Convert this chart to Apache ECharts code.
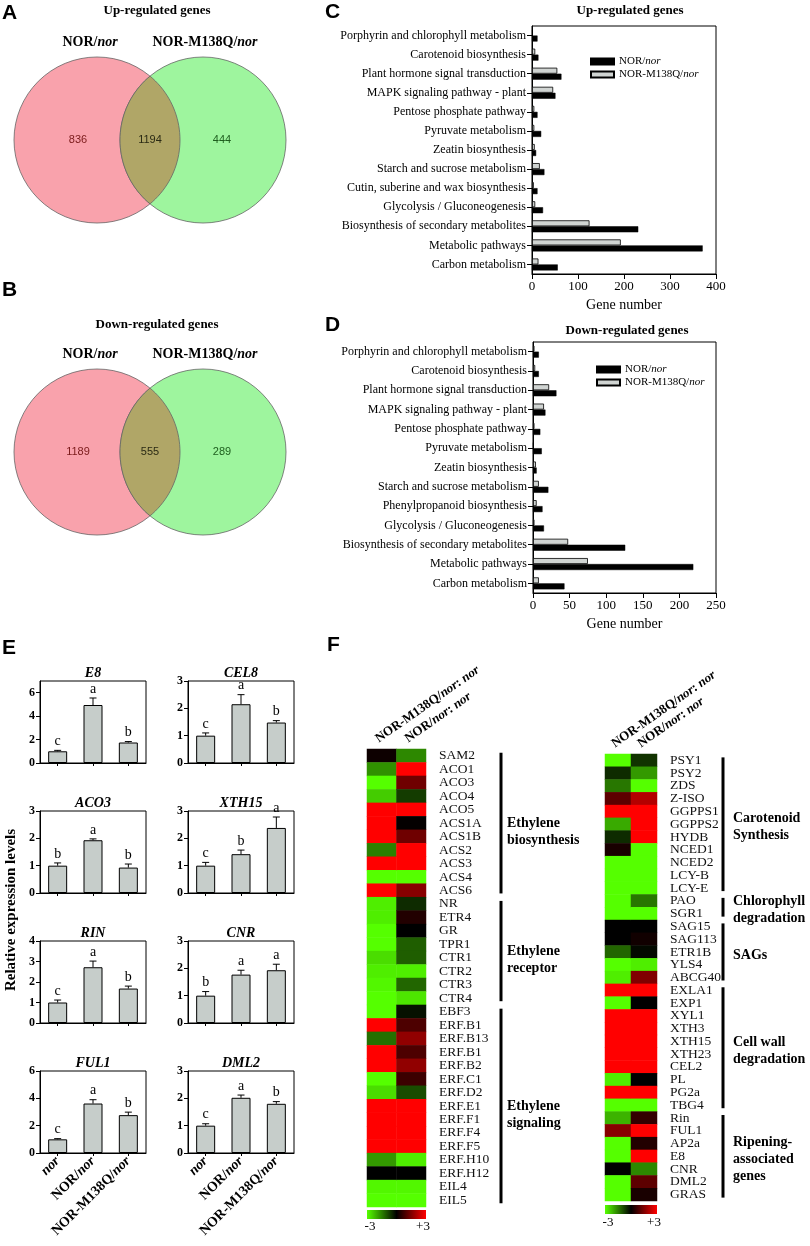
<!DOCTYPE html>
<html><head><meta charset="utf-8">
<script src="https://cdn.jsdelivr.net/npm/echarts@6/dist/echarts.min.js"></script>
<style>html,body{margin:0;padding:0;background:#fff}#c{width:810px;height:1246px}</style>
</head><body><div id="c"></div>
<script>
// ================= DATA =================
const vennSets = ['NOR/nor', 'NOR-M138Q/nor'];
const upCounts = [836, 1194, 444];
const downCounts = [1189, 555, 289];

const keggUpCats = ['Porphyrin and chlorophyll metabolism','Carotenoid biosynthesis','Plant hormone signal transduction','MAPK signaling pathway - plant','Pentose phosphate pathway','Pyruvate metabolism','Zeatin biosynthesis','Starch and sucrose metabolism','Cutin, suberine and wax biosynthesis','Glycolysis / Gluconeogenesis','Biosynthesis of secondary metabolites','Metabolic pathways','Carbon metabolism'];
const keggUpNOR   = [12, 14, 64, 51, 12, 20, 9, 27, 12, 24, 231, 371, 56];
const keggUpM138Q = [2, 7, 55, 46, 5, 5, 6, 17, 4, 7, 125, 193, 14];
const keggUpTicks = [0, 100, 200, 300, 400];

const keggDownCats = ['Porphyrin and chlorophyll metabolism','Carotenoid biosynthesis','Plant hormone signal transduction','MAPK signaling pathway - plant','Pentose phosphate pathway','Pyruvate metabolism','Zeatin biosynthesis','Starch and sucrose metabolism','Phenylpropanoid biosynthesis','Glycolysis / Gluconeogenesis','Biosynthesis of secondary metabolites','Metabolic pathways','Carbon metabolism'];
const keggDownNOR   = [8, 8, 32, 17, 10, 12, 5, 21, 13, 15, 126, 219, 43];
const keggDownM138Q = [2, 3, 22, 15, 2, 1, 4, 8, 5, 2, 48, 75, 8];
const keggDownTicks = [0, 50, 100, 150, 200, 250];

const qpcrGroups = ['nor', 'NOR/nor', 'NOR-M138Q/nor'];
const qpcrGenes = ['E8', 'CEL8', 'ACO3', 'XTH15', 'RIN', 'CNR', 'FUL1', 'DML2'];
const qpcrMean = [[1.0, 4.95, 1.75], [1.0, 2.15, 1.48], [1.0, 1.93, 0.93], [1.0, 1.42, 2.38],
                  [1.0, 2.72, 1.68], [1.0, 1.77, 1.93], [1.0, 3.62, 2.77], [1.0, 2.02, 1.80]];
const qpcrErr  = [[0.08, 0.6, 0.08], [0.1, 0.35, 0.07], [0.1, 0.05, 0.13], [0.12, 0.15, 0.4],
                  [0.12, 0.3, 0.12], [0.15, 0.16, 0.22], [0.05, 0.28, 0.22], [0.07, 0.1, 0.08]];
const qpcrLetters = [['c','a','b'], ['c','a','b'], ['b','a','b'], ['c','b','a'],
                     ['c','a','b'], ['b','a','a'], ['c','a','b'], ['c','a','b']];
const qpcrYTicks = [[0,2,4,6], [0,1,2,3], [0,1,2,3], [0,1,2,3], [0,1,2,3,4], [0,1,2,3], [0,2,4,6], [0,1,2,3]];
const qpcrYMax = [7, 3, 3, 3, 4, 3, 6, 3];

const heatCols = ['NOR-M138Q/nor: nor', 'NOR/nor: nor'];
const heatGenesLeft = ['SAM2','ACO1','ACO3','ACO4','ACO5','ACS1A','ACS1B','ACS2','ACS3','ACS4','ACS6','NR','ETR4','GR','TPR1','CTR1','CTR2','CTR3','CTR4','EBF3','ERF.B1','ERF.B13','ERF.B1','ERF.B2','ERF.C1','ERF.D2','ERF.E1','ERF.F1','ERF.F4','ERF.F5','ERF.H10','ERF.H12','EIL4','EIL5'];
const heatLeftM138Q = [0.15,-1.7,-3,-2.4,3,3,3,-1.5,3,-3,3, -2.8,-2.8,-3,-3,-2.6,-2.8,-2.9,-3, -3,3,-1.3,3,3,-3,-2.6,3,3,3,3,-1.8,0,-2.9,-3];
const heatLeftNOR   = [-1.6,3,1.3,-0.7,3,0.05,1.3,3,3,-3,1.6, -0.5,0.4,0,-1.1,-1.1,-2.8,-1.2,-2.7, -0.2,0.9,1.7,0.9,1.7,0.7,-0.9,3,3,3,3,-2.8,0,-2.9,-3];
const heatGenesRight = ['PSY1','PSY2','ZDS','Z-ISO','GGPPS1','GGPPS2','HYDB','NCED1','NCED2','LCY-B','LCY-E','PAO','SGR1','SAG15','SAG113','ETR1B','YLS4','ABCG40','EXLA1','EXP1','XYL1','XTH3','XTH15','XTH23','CEL2','PL','PG2a','TBG4','Rin','FUL1','AP2a','E8','CNR','DML2','GRAS'];
const heatRightM138Q = [-3,-0.5,-1.4,1.1,3,-2.0,-0.5,0.3,-3,-3,-3, -3,-3, 0,0,-1.2,-3,-2.8, 3,-3,3,3,3,3,3,-2.8,3,-3, -2.1,1.6,-3,-3,0,-3,-3];
const heatRightNOR   = [-0.6,-1.8,-3,2.1,3,3,3,-3,-3,-3,-3, -1.4,-3, 0,0.2,-0.1,-2.8,1.5, 3,0,3,3,3,3,3,0,3,-3, 0.6,3,0.4,3,-1.6,1.1,0.3];
const heatGroupsLeft  = [['Ethylene\nbiosynthesis', 0, 10], ['Ethylene\nreceptor', 11, 18], ['Ethylene\nsignaling', 19, 33]];
const heatGroupsRight = [['Carotenoid\nSynthesis', 0, 10], ['Chlorophyll\ndegradation', 11, 12], ['SAGs', 13, 17], ['Cell wall\ndegradation', 18, 27], ['Ripening-\nassociated\ngenes', 28, 34]];
const heatScale = [-3, 3];

// ================= STYLE / LAYOUT =================
const SERIF = "'Liberation Serif','Times New Roman',serif";
const SANS = "'Liberation Sans',Arial,sans-serif";
const HEAT_COLORS = ['#55ff00', '#000000', '#ff0000'];
const itl = s => s.replace(/nor/g, '{i|nor}');

const chart = echarts.init(document.getElementById('c'), null, {renderer: 'canvas'});

const grids = [
  {left: 532, top: 26, width: 184, height: 248, show: true, borderColor: '#000', borderWidth: 1},
  {left: 533, top: 342, width: 183, height: 251, show: true, borderColor: '#000', borderWidth: 1}
];
const eCols = [40, 188], eTops = [681, 811, 941, 1071];
qpcrGenes.forEach((g, i) => grids.push({left: eCols[i % 2], top: eTops[Math.floor(i / 2)], width: 106, height: 82, show: true, borderColor: '#000', borderWidth: 1}));
grids.push({left: 367, top: 749, width: 59, height: 458});
grids.push({left: 605, top: 754, width: 52, height: 447});

const xAxes = [], yAxes = [], series = [];

function keggAxes(gi, cats, ticks) {
  const mx = ticks[ticks.length - 1], step = ticks[1] - ticks[0];
  xAxes.push({gridIndex: gi, type: 'value', min: 0, max: mx, interval: step,
    axisLine: {show: true, lineStyle: {color: '#000', width: 1}},
    axisTick: {show: true, length: 5, lineStyle: {color: '#000'}},
    axisLabel: {fontFamily: SERIF, fontSize: 13, color: '#000', margin: 6},
    splitLine: {show: false},
    name: 'Gene number', nameLocation: 'middle', nameGap: 24,
    nameTextStyle: {fontFamily: SERIF, fontSize: 14, color: '#000'}});
  yAxes.push({gridIndex: gi, type: 'category', data: cats, inverse: true,
    axisLine: {show: true, lineStyle: {color: '#000', width: 1}},
    axisTick: {show: true, alignWithLabel: true, length: 5, interval: 0, lineStyle: {color: '#000'}},
    axisLabel: {fontFamily: SERIF, fontSize: 12, color: '#000', margin: 6, interval: 0}});
}
keggAxes(0, keggUpCats, keggUpTicks);
keggAxes(1, keggDownCats, keggDownTicks);

function keggSeries(ai, nor, m138) {
  series.push({type: 'bar', name: 'NOR-M138Q/nor', xAxisIndex: ai, yAxisIndex: ai, data: m138,
    barWidth: 6, barGap: '0%', silent: true,
    itemStyle: {color: '#d0d4d2', borderColor: '#000', borderWidth: 0.8}});
  series.push({type: 'bar', name: 'NOR/nor', xAxisIndex: ai, yAxisIndex: ai, data: nor,
    barWidth: 6, barGap: '0%', silent: true,
    itemStyle: {color: '#000', borderColor: '#000', borderWidth: 0.5}});
}
keggSeries(0, keggUpNOR, keggUpM138Q);
keggSeries(1, keggDownNOR, keggDownM138Q);

qpcrGenes.forEach((gene, g) => {
  const ai = 2 + g;
  const bottom = g >= 6;
  const ticks = qpcrYTicks[g];
  xAxes.push({gridIndex: ai, type: 'category', data: qpcrGroups,
    axisLine: {show: true, lineStyle: {color: '#000'}},
    axisTick: {show: true, alignWithLabel: true, length: 3, lineStyle: {color: '#000'}},
    axisLabel: {show: bottom, rotate: 45, margin: 6, interval: 0, fontFamily: SERIF, fontSize: 14, fontWeight: 'bold', color: '#000',
      formatter: v => itl(v),
      rich: {i: {fontFamily: SERIF, fontSize: 14, fontWeight: 'bold', fontStyle: 'italic', color: '#000'}}}});
  yAxes.push({gridIndex: ai, type: 'value', min: 0, max: qpcrYMax[g], interval: ticks[1] - ticks[0],
    axisLine: {show: true, lineStyle: {color: '#000'}},
    axisTick: {show: true, length: 4, lineStyle: {color: '#000'}, customValues: ticks},
    axisLabel: {fontFamily: SERIF, fontSize: 12, fontWeight: 'bold', color: '#000', margin: 5,
      customValues: ticks, formatter: v => (ticks.indexOf(v) >= 0 ? String(v) : '')},
    splitLine: {show: false}});
  series.push({type: 'bar', name: 'q-' + gene, xAxisIndex: ai, yAxisIndex: ai, data: qpcrMean[g],
    barWidth: 19, silent: true,
    itemStyle: {color: '#c6cdca', borderColor: '#000', borderWidth: 1}});
  series.push({type: 'custom', name: 'err-' + gene, xAxisIndex: ai, yAxisIndex: ai, silent: true, z: 5,
    data: qpcrMean[g].map((m, i) => [i, m, qpcrErr[g][i]]),
    encode: {x: 0, y: 1},
    renderItem: (params, api) => {
      const i = api.value(0), m = api.value(1), e = api.value(2);
      const p0 = api.coord([i, m]), p1 = api.coord([i, m + e]);
      return {type: 'group', children: [
        {type: 'line', shape: {x1: p0[0], y1: p0[1], x2: p1[0], y2: p1[1]}, style: {stroke: '#000', lineWidth: 1}},
        {type: 'line', shape: {x1: p1[0] - 3.5, y1: p1[1], x2: p1[0] + 3.5, y2: p1[1]}, style: {stroke: '#000', lineWidth: 1}},
        {type: 'text', x: p1[0], y: p1[1] - 2, style: {text: qpcrLetters[g][params.dataIndex], align: 'center', verticalAlign: 'bottom',
          textAlign: 'center', textVerticalAlign: 'bottom', fontFamily: SERIF, fontSize: 14, fill: '#000'}}
      ]};
    }});
});

function heatAxes(gi, genes) {
  xAxes.push({gridIndex: gi, type: 'category', data: heatCols, position: 'top',
    axisLine: {show: false}, axisTick: {show: false}, splitLine: {show: false}, axisLabel: {show: false}});
  yAxes.push({gridIndex: gi, type: 'category', data: genes, inverse: true, position: 'right',
    axisLine: {show: false}, axisTick: {show: false}, splitLine: {show: false},
    axisLabel: {margin: 13, interval: 0, fontFamily: SERIF, fontSize: 13.5, color: '#111'}});
}
heatAxes(10, heatGenesLeft);
heatAxes(11, heatGenesRight);
const hmStart = series.length;
function heatSeries(ai, a, b) {
  const d = [];
  a.forEach((v, r) => d.push([0, r, v]));
  b.forEach((v, r) => d.push([1, r, v]));
  series.push({type: 'heatmap', xAxisIndex: ai, yAxisIndex: ai, data: d, silent: true,
    itemStyle: {borderWidth: 0}, emphasis: {disabled: true}});
}
heatSeries(10, heatLeftM138Q, heatLeftNOR);
heatSeries(11, heatRightM138Q, heatRightNOR);

const legendCommon = {orient: 'vertical', itemWidth: 23, itemHeight: 6, itemGap: 2, icon: 'rect',
  selectedMode: false, data: ['NOR/nor', 'NOR-M138Q/nor'], formatter: n => itl(n),
  textStyle: {fontFamily: SERIF, fontSize: 11, color: '#000',
    rich: {i: {fontFamily: SERIF, fontSize: 11, fontStyle: 'italic', color: '#000'}}}};

chart.setOption({
  animation: false,
  backgroundColor: '#fff',
  grid: grids, xAxis: xAxes, yAxis: yAxes, series: series,
  legend: [Object.assign({left: 585, top: 51}, legendCommon), Object.assign({left: 591, top: 359}, legendCommon)],
  visualMap: [{type: 'continuous', show: false, min: heatScale[0], max: heatScale[1], seriesIndex: [hmStart, hmStart + 1],
    inRange: {color: HEAT_COLORS}}]
});

// ================= GRAPHICS (text, venn, brackets) =================
const G = [];
function txt(x, y, text, o) {
  o = o || {};
  const st = Object.assign({text: text, fontFamily: SERIF, fontSize: 13, fill: '#000',
    align: 'center', verticalAlign: 'middle'}, o.style || {});
  st.textAlign = st.align;
  st.textVerticalAlign = st.verticalAlign;
  G.push({type: 'text', x: x, y: y, rotation: o.rotation || 0, silent: true, z: 100, style: st});
}
const letterStyle = {fontFamily: SANS, fontSize: 21, fontWeight: 'bold', align: 'left'};
txt(2, 13, 'A', {style: letterStyle});
txt(2, 290, 'B', {style: letterStyle});
txt(325, 12, 'C', {style: letterStyle});
txt(325, 325, 'D', {style: letterStyle});
txt(2, 648, 'E', {style: letterStyle});
txt(327, 645, 'F', {style: letterStyle});

const boldT = {fontWeight: 'bold', fontSize: 13};
txt(157, 11, 'Up-regulated genes', {style: boldT});
txt(157, 325, 'Down-regulated genes', {style: boldT});
txt(630, 11, 'Up-regulated genes', {style: boldT});
txt(627, 331, 'Down-regulated genes', {style: boldT});

const richBold = {i: {fontFamily: SERIF, fontSize: 14, fontWeight: 'bold', fontStyle: 'italic', fill: '#000'}};
function venn(cy, labelY, counts) {
  const r = 83, c1 = 97, c2 = 203;
  const half = (c2 - c1) / 2, h = Math.sqrt(r * r - half * half);
  const th = Math.atan2(h, half);
  const pts = [];
  const N = 40;
  for (let k = 0; k <= N; k++) { const t = -th + 2 * th * k / N; pts.push([c1 + r * Math.cos(t), cy + r * Math.sin(t)]); }
  for (let k = 0; k <= N; k++) { const t = Math.PI - th + 2 * th * k / N; pts.push([c2 + r * Math.cos(t), cy + r * Math.sin(t)]); }
  G.push({type: 'circle', shape: {cx: c1, cy: cy, r: r}, style: {fill: '#f9a2ac', stroke: '#666', lineWidth: 0.8}, silent: true});
  G.push({type: 'circle', shape: {cx: c2, cy: cy, r: r}, style: {fill: '#9ef59e', stroke: '#666', lineWidth: 0.8}, silent: true});
  G.push({type: 'polygon', shape: {points: pts}, style: {fill: '#b0a667', stroke: '#666', lineWidth: 0.8}, silent: true});
  txt(90, labelY, itl(vennSets[0]), {style: {fontWeight: 'bold', fontSize: 14, rich: richBold}});
  txt(205, labelY, itl(vennSets[1]), {style: {fontWeight: 'bold', fontSize: 14, rich: richBold}});
  const cols = ['#7a1a1a', '#2a2a14', '#1e5e1e'], xs = [78, 150, 222];
  counts.forEach((n, i) => txt(xs[i], cy, String(n), {style: {fontFamily: SANS, fontSize: 11, fill: cols[i]}}));
}
venn(140, 42, upCounts);
venn(452, 354, downCounts);

txt(11, 910, 'Relative expression levels', {rotation: Math.PI / 2, style: {fontWeight: 'bold', fontSize: 15}});

qpcrGenes.forEach((gene, g) => {
  txt(eCols[g % 2] + 53, eTops[Math.floor(g / 2)] - 8, gene, {style: {fontWeight: 'bold', fontStyle: 'italic', fontSize: 14}});
});

// colour bars
function cbar(x, y, w, ly) {
  G.push({type: 'rect', shape: {x: x, y: y, width: w, height: 9}, silent: true,
    style: {fill: {type: 'linear', x: 0, y: 0, x2: 1, y2: 0, global: false,
      colorStops: HEAT_COLORS.map((c, i) => ({offset: i / (HEAT_COLORS.length - 1), color: c}))}}});
  txt(x + 3, ly, '-' + Math.abs(heatScale[0]), {style: {fontSize: 13}});
  txt(x + w - 3, ly, '+' + heatScale[1], {style: {fontSize: 13}});
}
cbar(367, 1210, 59, 1227);
cbar(605, 1205, 52, 1223);

// heatmap column headers (rotated)
const hdrRich = {i: {fontFamily: SERIF, fontSize: 13, fontWeight: 'bold', fontStyle: 'italic', fill: '#000'}};
[[10, 749], [11, 754]].forEach(([ai, top]) => {
  heatCols.forEach((c, ci) => {
    const x = chart.convertToPixel({xAxisIndex: ai}, ci);
    txt(x - 5, top - 9, itl(c), {rotation: 35 * Math.PI / 180,
      style: {fontWeight: 'bold', fontSize: 13, align: 'left', verticalAlign: 'middle', rich: hdrRich}});
  });
});

// bracket groups
function brackets(axisIdx, groups, lx, tx, dy) {
  groups.forEach(([label, a, b]) => {
    const y1 = chart.convertToPixel({yAxisIndex: axisIdx}, a) - 3;
    const y2 = chart.convertToPixel({yAxisIndex: axisIdx}, b) + 3;
    G.push({type: 'line', shape: {x1: lx, y1: y1, x2: lx, y2: y2}, style: {stroke: '#000', lineWidth: 3}, silent: true});
    txt(tx, (y1 + y2) / 2 + dy, label, {style: {fontWeight: 'bold', fontSize: 14, lineHeight: 17, align: 'left'}});
  });
}
brackets(10, heatGroupsLeft, 501, 507, 9);
brackets(11, heatGroupsRight, 723, 733, 3);

chart.setOption({graphic: {elements: G}});
</script>
</body></html>
